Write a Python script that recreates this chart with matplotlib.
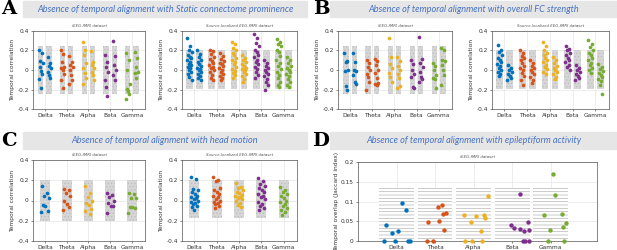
import numpy as np
import matplotlib.pyplot as plt

bands = ['Delta', 'Theta', 'Alpha', 'Beta', 'Gamma']
band_colors = ['#0072BD', '#D95319', '#EDB120', '#7E2F8E', '#77AC30']

# panel A - static connectome prominence (two groups per band)
a_ieeg_low = [[0.21, 0.17, 0.09, 0.07, 0.03, -0.01, -0.04, -0.09, -0.18],
              [0.2, 0.16, 0.08, 0.03, 0.02, 0.0, -0.04, -0.1, -0.18],
              [0.29, 0.2, 0.15, 0.07, 0.02, -0.03, -0.08, -0.14],
              [0.15, 0.08, 0.03, -0.02, -0.1, -0.17, -0.27],
              [0.17, 0.1, 0.0, -0.14, -0.19, -0.22, -0.25, -0.3]]
a_ieeg_high = [[0.13, 0.07, 0.04, 0.02, -0.02, -0.05, -0.08],
               [0.14, 0.08, 0.05, 0.03, 0.0, -0.05, -0.1, -0.14],
               [0.19, 0.08, 0.05, 0.02, -0.02, -0.05, -0.1],
               [0.3, 0.14, 0.05, 0.0, -0.05, -0.1],
               [0.18, 0.12, 0.03, -0.02, -0.03, -0.08]]
a_src_low = [[0.33, 0.25, 0.2, 0.18, 0.15, 0.13, 0.12, 0.1, 0.08, 0.06, 0.05, 0.03, 0.02, 0.0, -0.02, -0.04, -0.07, -0.1],
             [0.21, 0.19, 0.16, 0.13, 0.11, 0.09, 0.07, 0.05, 0.03, 0.02, 0.0, -0.02, -0.05, -0.08, -0.1],
             [0.29, 0.27, 0.23, 0.2, 0.17, 0.15, 0.12, 0.1, 0.08, 0.06, 0.03, 0.01, -0.01, -0.03, -0.05, -0.08],
             [0.37, 0.33, 0.28, 0.25, 0.21, 0.18, 0.15, 0.13, 0.1, 0.08, 0.06, 0.03, 0.01, -0.02, -0.05, -0.08],
             [0.32, 0.29, 0.27, 0.25, 0.21, 0.18, 0.14, 0.1, 0.07, 0.04, 0.01, -0.02, -0.05, -0.08, -0.12, -0.15, -0.17]]
a_src_high = [[0.2, 0.16, 0.13, 0.1, 0.08, 0.06, 0.04, 0.02, 0.01, 0.0, -0.02, -0.04, -0.06, -0.08, -0.1],
              [0.17, 0.14, 0.11, 0.09, 0.07, 0.06, 0.04, 0.02, 0.0, -0.02, -0.04, -0.06, -0.08, -0.1],
              [0.15, 0.12, 0.1, 0.08, 0.06, 0.04, 0.02, 0.01, 0.0, -0.02, -0.04, -0.06, -0.09, -0.12],
              [0.1, 0.07, 0.04, 0.02, 0.0, -0.02, -0.04, -0.06, -0.09, -0.12, -0.15, -0.21],
              [0.13, 0.1, 0.07, 0.04, 0.02, 0.0, -0.02, -0.04, -0.06, -0.09, -0.12, -0.15, -0.17]]

# panel B - overall FC strength
b_ieeg_low = [[0.17, 0.09, 0.08, 0.0, -0.01, -0.16, -0.21],
              [0.1, 0.07, 0.03, 0.0, -0.04, -0.07, -0.12, -0.21],
              [0.33, 0.13, 0.06, 0.02, -0.03, -0.07, -0.12],
              [0.1, 0.06, 0.0, -0.04, -0.07, -0.17, -0.18],
              [0.07, 0.04, 0.0, -0.05, -0.08, -0.09, -0.18]]
b_ieeg_high = [[0.17, 0.08, 0.0, -0.01, -0.05, -0.12, -0.14],
               [0.11, 0.09, 0.05, 0.0, -0.03, -0.08, -0.13, -0.14, -0.15],
               [0.13, 0.09, 0.04, 0.0, -0.04, -0.08, -0.16, -0.18],
               [0.34, 0.11, 0.07, 0.03, -0.02, -0.07, -0.09, -0.12],
               [0.23, 0.2, 0.1, 0.09, 0.05, 0.0, -0.05, -0.15]]
b_src_low = [[0.26, 0.2, 0.18, 0.15, 0.12, 0.1, 0.08, 0.06, 0.04, 0.02, 0.0, -0.02, -0.04, -0.06],
             [0.2, 0.17, 0.14, 0.12, 0.1, 0.07, 0.04, 0.02, 0.0, -0.03, -0.06, -0.1, -0.15],
             [0.29, 0.25, 0.2, 0.17, 0.15, 0.12, 0.1, 0.08, 0.05, 0.03, 0.01, -0.02, -0.04],
             [0.25, 0.22, 0.2, 0.17, 0.15, 0.12, 0.1, 0.08, 0.05, 0.03, 0.0],
             [0.31, 0.27, 0.24, 0.2, 0.17, 0.15, 0.12, 0.1, 0.07, 0.05, 0.02, 0.0, -0.03]]
b_src_high = [[0.05, 0.02, 0.0, -0.02, -0.04, -0.06, -0.08, -0.1],
              [0.1, 0.07, 0.04, 0.02, 0.0, -0.02, -0.04, -0.07, -0.1, -0.13],
              [0.13, 0.1, 0.07, 0.04, 0.02, 0.0, -0.02, -0.04, -0.07, -0.09],
              [0.05, 0.02, 0.0, -0.02, -0.04, -0.06, -0.08, -0.1],
              [0.06, 0.03, 0.01, -0.01, -0.03, -0.05, -0.07, -0.09, -0.11, -0.15, -0.25]]

# panel C - head motion (one group per band)
c_ieeg = [[0.14, 0.07, 0.04, 0.02, -0.04, -0.05, -0.1, -0.11],
          [0.11, 0.1, 0.07, 0.04, 0.0, -0.03, -0.06, -0.09],
          [0.14, 0.07, 0.03, 0.0, -0.02, -0.04, -0.08, -0.1, -0.13],
          [0.07, 0.05, 0.03, 0.0, -0.02, -0.05, -0.05, -0.12],
          [0.07, 0.06, 0.02, 0.02, -0.06, -0.06, -0.07, -0.12]]
c_src = [[0.23, 0.21, 0.11, 0.1, 0.08, 0.06, 0.04, 0.03, 0.02, 0.01, 0.0, -0.01, -0.02, -0.03, -0.05, -0.06, -0.09],
         [0.23, 0.2, 0.19, 0.12, 0.1, 0.08, 0.06, 0.04, 0.03, 0.01, 0.0, -0.01, -0.02, -0.03, -0.05, -0.07],
         [0.17, 0.13, 0.12, 0.1, 0.08, 0.07, 0.05, 0.04, 0.03, 0.02, 0.01, 0.0, -0.02, -0.04, -0.06],
         [0.22, 0.19, 0.16, 0.14, 0.12, 0.1, 0.08, 0.06, 0.04, 0.03, 0.01, -0.01, -0.03, -0.05, -0.07, -0.09],
         [0.13, 0.1, 0.08, 0.06, 0.04, 0.02, 0.0, -0.01, -0.03, -0.05, -0.07, -0.09, -0.11, -0.14]]

# null ranges (grey clouds) per dataset
null_ieeg = (-0.25, 0.25)
null_src = (-0.19, 0.2)

# panel D - epileptiform activity, jaccard overlap (x position, value)
d_x = [[0.67, 0.95, 0.73, 0.88, 1.03, 1.15, 1.25, 1.29, 1.36],
       [1.79, 1.94, 2.07, 2.18, 2.11, 1.82, 2.2, 2.28, 2.24],
       [2.78, 2.97, 3.22, 3.38, 2.75, 3.05, 3.27, 3.29, 3.18, 2.93],
       [4.21, 3.96, 4.04, 4.21, 4.41, 4.43, 4.3, 4.34, 4.43, 4.27],
       [5.06, 5.1, 4.83, 5.29, 5.4, 4.97, 5.32, 5.35, 4.93]]
d_y = [[0.0, 0.0, 0.04, 0.02, 0.025, 0.095, 0.078, 0.0, 0.0],
       [0.0, 0.0, 0.085, 0.091, 0.05, 0.048, 0.068, 0.072, 0.028],
       [0.0, 0.0, 0.0, 0.114, 0.067, 0.064, 0.067, 0.057, 0.025, 0.049],
       [0.119, 0.04, 0.032, 0.03, 0.049, 0.028, 0.025, 0.0, 0.0, 0.0],
       [0.169, 0.116, 0.066, 0.068, 0.045, 0.028, 0.036, 0.0, 0.0]]
d_null_top = 0.135

TITLE_BLUE = '#4472C4'
BAR_GREY = '#e7e6e6'
jitter = [-0.35, 0.2, -0.1, 0.4, -0.25, 0.05, 0.3, -0.4, 0.15, -0.05, 0.35, -0.3, 0.1, -0.15, 0.25, -0.2, 0.0, 0.45]

plt.rcParams['font.family'] = 'DejaVu Sans'
plt.rcParams['hatch.linewidth'] = 0.5
fig = plt.figure(figsize=(6.17, 2.5), dpi=100)


def px(l, t, r, b):
    return [l / 617, 1 - b / 250, (r - l) / 617, (b - t) / 250]


def style_axes(ax, ylabel):
    for s in ax.spines.values():
        s.set_linewidth(0.5)
        s.set_color('#555555')
    ax.tick_params(labelsize=4.2, length=1.5, width=0.4, pad=1.5, colors='#333333')
    ax.grid(True, color='#e0e0e0', linewidth=0.4)
    ax.set_axisbelow(True)
    ax.set_ylabel(ylabel, fontsize=4.3, labelpad=1.5, color='#333333')


def corr_panel(rect, groups, nulls, null_width, offsets, point_width, subtitle):
    ax = fig.add_axes(px(*rect))
    for gi, group in enumerate(groups):
        for bi, vals in enumerate(group):
            xc = bi + 1 + offsets[gi]
            ax.bar(xc, nulls[1] - nulls[0], bottom=nulls[0], width=null_width,
                   facecolor='#d6d6d6', edgecolor='#bdbdbd', hatch='.....',
                   linewidth=0, zorder=1)
            xs = [xc + point_width * jitter[k % len(jitter)] for k in range(len(vals))]
            ax.scatter(xs, vals, s=7, color=band_colors[bi], linewidths=0, zorder=3)
    ax.set_xlim(0.45, 5.6)
    ax.set_ylim(-0.4, 0.4)
    ax.set_xticks(range(1, 6))
    ax.set_xticklabels(bands)
    ax.set_yticks([-0.4, -0.2, 0, 0.2, 0.4])
    ax.set_yticklabels(['-0.4', '-0.2', '0', '0.2', '0.4'])
    style_axes(ax, 'Temporal correlation')
    ax.set_title(subtitle, fontsize=2.8, style='italic', color='#555555', pad=3)
    return ax


def header(l, r, t, b, text, letter, letter_x):
    fig.patches.append(plt.Rectangle((l / 617, 1 - b / 250), (r - l) / 617, (b - t) / 250,
                                     transform=fig.transFigure, color=BAR_GREY, zorder=0))
    fig.text((l + r) / 2 / 617, 1 - (t + b) / 2 / 250, text, fontsize=6.6, style='italic',
             color=TITLE_BLUE, ha='center', va='center', family='Lato')
    fig.text(letter_x / 617, 1 - (t + b) / 2 / 250, letter, fontsize=14, weight='bold',
             family='DejaVu Serif', ha='left', va='center')


header(23, 307, 1, 17, 'Absence of temporal alignment with Static connectome prominence', 'A', 1)
header(330, 617, 1, 17, 'Absence of temporal alignment with overall FC strength', 'B', 313)
header(23, 307, 132, 149, 'Absence of temporal alignment with head motion', 'C', 1)
header(330, 617, 132, 149, 'Absence of temporal alignment with epileptiform activity', 'D', 312)

corr_panel((33, 31, 145, 109), [a_ieeg_low, a_ieeg_high], null_ieeg, 0.24, [-0.19, 0.19], 0.2, 'iEEG-fMRI dataset')
corr_panel((182, 31, 297, 109), [a_src_low, a_src_high], null_src, 0.3, [-0.22, 0.22], 0.25, 'Source-localized EEG-fMRI dataset')
corr_panel((338, 31, 452, 109), [b_ieeg_low, b_ieeg_high], null_ieeg, 0.24, [-0.19, 0.19], 0.2, 'iEEG-fMRI dataset')
corr_panel((492, 31, 609, 109), [b_src_low, b_src_high], null_src, 0.3, [-0.22, 0.22], 0.25, 'Source-localized EEG-fMRI dataset')
corr_panel((33, 160, 145, 241), [c_ieeg], (-0.2, 0.2), 0.45, [0.0], 0.42, 'iEEG-fMRI dataset')
corr_panel((182, 160, 297, 241), [c_src], (-0.17, 0.2), 0.45, [0.0], 0.42, 'Source-localized EEG-fMRI dataset')

# panel D
axd = fig.add_axes(px(358, 162, 597, 241))
for bi in range(5):
    axd.bar(bi + 1, d_null_top, width=0.9, facecolor='white', edgecolor='#b5b5b5',
            hatch='-----', linewidth=0, zorder=1)
    axd.scatter(d_x[bi], d_y[bi], s=10, color=band_colors[bi], linewidths=0, zorder=3, clip_on=False)
axd.set_xlim(0.0, 6.2)
axd.set_ylim(0, 0.2)
axd.set_xticks(range(1, 6))
axd.set_xticklabels(bands)
axd.set_yticks([0, 0.05, 0.1, 0.15, 0.2])
axd.set_yticklabels(['0', '0.05', '0.1', '0.15', '0.2'])
style_axes(axd, 'Temporal overlap (Jaccard index)')
axd.set_title('iEEG-fMRI dataset', fontsize=2.8, style='italic', color='#555555', pad=3)

fig.savefig('out.png', dpi=100)
